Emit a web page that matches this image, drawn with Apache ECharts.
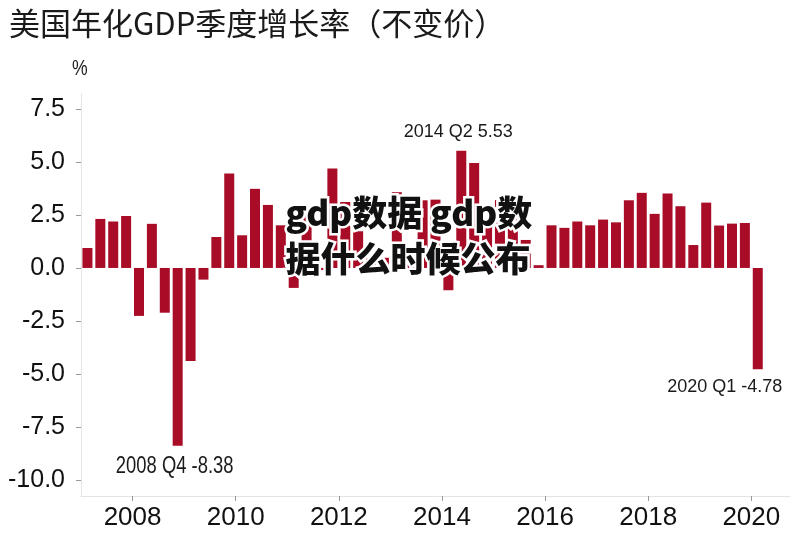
<!DOCTYPE html>
<html>
<head>
<meta charset="utf-8">
<script src="https://cdn.jsdelivr.net/npm/echarts@6/dist/echarts.min.js"></script>
<style>
html,body{margin:0;padding:0;background:#fff;}
#chart{width:811px;height:536px;}
</style>
</head>
<body>
<div id="chart"></div>
<script>
// ---- data ----
var firstYear = 2007;
var quarterNames = ['Q1', 'Q2', 'Q3', 'Q4'];
// annualised real GDP growth, % (2007 Q1 ... 2020 Q1)
var growth = [
  0.94, 2.31, 2.19, 2.45,
  -2.26, 2.08, -2.11, -8.38,
  -4.39, -0.55, 1.46, 4.45,
  1.54, 3.73, 2.97, 2.01,
  -0.94, 2.88, -0.10, 4.69,
  3.11, 1.73, 0.45, 0.48,
  3.57, 0.50, 3.19, 3.22,
  -1.05, 5.53, 4.95, 2.28,
  3.20, 3.07, 1.32, 0.13,
  2.01, 1.89, 2.19, 2.01,
  2.28, 2.15, 3.19, 3.54,
  2.55, 3.51, 2.91, 1.08,
  3.08, 2.00, 2.09, 2.12,
  -4.78
];
var categories = growth.map(function (v, i) {
  return (firstYear + Math.floor(i / 4)) + ' ' + quarterNames[i % 4];
});
var yTicks = [-10, -7.5, -5, -2.5, 0, 2.5, 5, 7.5];
var xTicks = [2008, 2010, 2012, 2014, 2016, 2018, 2020];
var annotated = ['2014 Q2', '2020 Q1'];
var annotatedNarrow = '2008 Q4';
var titleText = '美国年化GDP季度增长率（不变价）';
var unitText = '%';
var watermarkLines = ['gdp数据 gdp数', '据什么时候公布'];

// ---- chart ----
var labelStyles = {
  '2014 Q2': {position: 'top', distance: 10, offset: [-3, 0], fontSize: 18},
  '2020 Q1': {position: 'bottom', distance: 9, offset: [-33, 0], fontSize: 18}
};

function xPos(cat) {
  var parts = cat.split(' ');
  return parseInt(parts[0], 10) + (quarterNames.indexOf(parts[1]) + 0.5) / 4;
}

var barData = growth.map(function (v, i) {
  var cat = categories[i];
  var item = {value: [xPos(cat), v], name: cat};
  if (annotated.indexOf(cat) >= 0) {
    var s = labelStyles[cat];
    item.label = {
      show: true,
      position: s.position,
      distance: s.distance,
      offset: s.offset,
      formatter: cat + ' ' + v.toFixed(2),
      color: '#1a1a1a',
      fontFamily: '"Liberation Sans", Arial, sans-serif',
      fontSize: s.fontSize
    };
  }
  return item;
});

var chart = echarts.init(document.getElementById('chart'), null, {renderer: 'canvas'});
chart.setOption({
  backgroundColor: '#ffffff',
  animation: false,
  title: {
    text: titleText,
    left: 4,
    top: 3,
    textStyle: {
      fontFamily: '"Noto Sans CJK SC", sans-serif',
      fontSize: 31,
      fontWeight: 'normal',
      color: '#1a1a1a'
    }
  },
  grid: {left: 81, right: 21, top: 94, bottom: 40, containLabel: false},
  xAxis: {
    type: 'value',
    min: 2007,
    max: 2020.75,
    splitLine: {show: false},
    axisLine: {show: true, onZero: false, lineStyle: {color: '#e4e4e4', width: 1}},
    axisTick: {show: true, customValues: xTicks, length: 5, lineStyle: {color: '#9a9a9a'}},
    axisLabel: {
      customValues: xTicks,
      formatter: function (v) { return String(v); },
      fontFamily: '"Liberation Sans", Arial, sans-serif',
      fontSize: 26,
      color: '#111',
      margin: 9
    }
  },
  yAxis: {
    type: 'value',
    min: -10.75,
    max: 8.2,
    splitLine: {show: false},
    axisLine: {show: true, lineStyle: {color: '#e4e4e4', width: 1}},
    axisTick: {show: true, customValues: yTicks, length: 5, lineStyle: {color: '#9a9a9a'}},
    axisLabel: {
      customValues: yTicks,
      formatter: function (v) { return Number(v).toFixed(1); },
      fontFamily: '"Liberation Sans", Arial, sans-serif',
      fontSize: 25,
      color: '#111',
      margin: 16
    }
  },
  series: [{
    type: 'bar',
    data: barData,
    barWidth: 10,
    itemStyle: {color: '#a80c26'},
    label: {show: false}
  }]
});

// narrow annotation below the 2008 Q4 bar, placed through the chart's own scales
var narrowIdx = categories.indexOf(annotatedNarrow);
var narrowVal = growth[narrowIdx];
var anchor = chart.convertToPixel({seriesIndex: 0}, [xPos(annotatedNarrow), narrowVal]);

chart.setOption({
  graphic: [
    {
      type: 'text',
      left: 72,
      top: 58,
      style: {
        text: unitText,
        fontFamily: '"Liberation Sans", sans-serif',
        fontSize: 22,
        fill: '#1a1a1a'
      },
      scaleX: 0.8
    },
    {
      type: 'text',
      x: anchor[0] - 3,
      y: anchor[1] + 21,
      scaleX: 0.8,
      style: {
        text: annotatedNarrow + ' ' + narrowVal.toFixed(2),
        fontFamily: '"Liberation Sans", Arial, sans-serif',
        fontSize: 23,
        fill: '#1a1a1a',
        align: 'center',
        verticalAlign: 'middle'
      }
    },
    {
      type: 'text',
      left: 283,
      top: 190,
      z: 100,
      style: {
        text: watermarkLines.join('\n'),
        fontFamily: '"Noto Sans CJK SC", sans-serif',
        fontSize: 35,
        fontWeight: 900,
        lineHeight: 46,
        fill: '#111',
        stroke: '#ffffff',
        lineWidth: 5
      }
    }
  ]
});
</script>
</body>
</html>
